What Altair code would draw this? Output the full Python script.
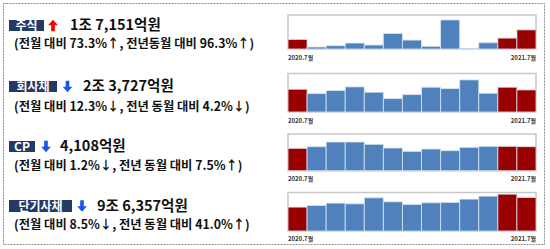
import altair as alt
import pandas as pd

# ---- data ----
months = ["2020.7", "2020.8", "2020.9", "2020.10", "2020.11", "2020.12", "2021.1",
          "2021.2", "2021.3", "2021.4", "2021.5", "2021.6", "2021.7"]
highlight = [1, 0, 0, 0, 0, 0, 0, 0, 0, 0, 0, 1, 1]

categories = ["주식", "회사채", "CP", "단기사채"]
directions = ["up", "down", "down", "down"]
amounts = ["1조 7,151억원", "2조 3,727억원", "4,108억원", "9조 6,357억원"]
changes = [
    "(전월 대비 73.3%↑, 전년동월 대비 96.3%↑)",
    "(전월 대비 12.3%↓, 전년 동월 대비 4.2%↓)",
    "(전월 대비 1.2%↓, 전년 동월 대비 7.5%↑)",
    "(전월 대비 8.5%↓, 전년 동월 대비 41.0%↑)",
]
# relative bar heights (in units of each panel's full height)
stock = [29, 6, 10, 18, 12, 47, 27, 8, 88, 2, 19, 33, 58]
corp_bond = [68, 55, 64, 75, 59, 40, 52, 74, 70, 96, 56, 74, 66]
cp = [67, 72, 86, 86, 79, 68, 58, 65, 60, 70, 73, 73, 72]
short_bond = [72, 77, 84, 82, 100, 88, 80, 85, 86, 96, 105, 111, 101]
panel_max = [103, 115, 110, 116]
series = [stock, corp_bond, cp, short_bond]
start_label = "2020.7월"
end_label = "2021.7월"

# ---- layout ----
W, H = 550, 249
NAVY = "#243a64"
RED = "#990000"
BLUE = "#4f81bd"
FONT = "Noto Sans CJK KR"

box_w = [35, 48, 26, 63]
box_y = [(20, 31), (81, 92), (141, 152), (200, 212)]
arrow_x = [53, 67.5, 46, 82]
amount_x = [70, 83, 60, 97]
change_y = [44, 107, 166, 225]
panel_y = [(15, 49), (73.5, 112), (134, 170.7), (192.5, 231)]
label_y = [58, 121, 179, 239]
PX0, PX1 = 288, 536

one = pd.DataFrame({"a": [0]})
arrow_up = "M0,-1L0.85,-0.05L0.32,-0.05L0.32,1L-0.32,1L-0.32,-0.05L-0.85,-0.05Z"
arrow_down = "M0,1L0.85,0.05L0.32,0.05L0.32,-1L-0.32,-1L-0.32,0.05L-0.85,0.05Z"

layers = []
# outer dashed border
layers.append(alt.Chart(one).mark_rect(fillOpacity=0, stroke="#8c8c8c", strokeWidth=1,
                                       strokeDash=[2, 1]).encode(
    x=alt.value(3.5), x2=alt.value(544.5), y=alt.value(3.5), y2=alt.value(244.5)))

for i in range(4):
    y0, y1 = box_y[i]
    cy = (y0 + y1) / 2
    layers.append(alt.Chart(one).mark_rect(color=NAVY).encode(
        x=alt.value(9), x2=alt.value(9 + box_w[i]), y=alt.value(y0), y2=alt.value(y1)))
    layers.append(alt.Chart(one).mark_text(text=categories[i], color="white", font=FONT,
                                           fontSize=12, fontWeight="bold", align="center",
                                           baseline="middle").encode(
        x=alt.value(9 + box_w[i] / 2), y=alt.value(cy + 0.5)))
    up = directions[i] == "up"
    layers.append(alt.Chart(one).mark_point(shape=arrow_up if up else arrow_down, filled=True,
                                            opacity=1, size=130,
                                            color="#ff0000" if up else "#1a56e8").encode(
        x=alt.value(arrow_x[i]), y=alt.value(cy)))
    layers.append(alt.Chart(one).mark_text(text=amounts[i], color="#111111", font=FONT,
                                           fontSize=14.5, fontWeight="bold", align="left",
                                           baseline="middle").encode(
        x=alt.value(amount_x[i]), y=alt.value(cy + 0.5)))
    layers.append(alt.Chart(one).mark_text(text=changes[i], color="#111111", font=FONT,
                                           fontSize=12.3, fontWeight="bold", align="left",
                                           baseline="middle").encode(
        x=alt.value(14), y=alt.value(change_y[i])))

    # bar panel
    py0, py1 = panel_y[i]
    df = pd.DataFrame({"month": months, "value": series[i],
                       "hl": ["red" if h else "blue" for h in highlight]})
    bars = alt.Chart(df).mark_bar(stroke="#dbe4f1", strokeWidth=0.8).encode(
        x=alt.X("month:O", sort=months, axis=None,
                scale=alt.Scale(range=[PX0, PX1], paddingInner=0, paddingOuter=0)),
        y=alt.Y("value:Q", axis=None,
                scale=alt.Scale(domain=[0, panel_max[i]], range=[py1, py0], nice=False, zero=True)),
        color=alt.Color("hl:N", legend=None,
                        scale=alt.Scale(domain=["red", "blue"], range=[RED, BLUE])),
    )
    frame = alt.Chart(one).mark_rect(fillOpacity=0, stroke="#c8c8c8", strokeWidth=1.5).encode(
        x=alt.value(PX0), x2=alt.value(PX1), y=alt.value(py0), y2=alt.value(py1))
    layers.append(frame)
    layers.append(bars)
    layers.append(alt.Chart(one).mark_text(text=start_label, color="#333333", font=FONT,
                                           fontSize=6, fontWeight="bold", align="left",
                                           baseline="middle").encode(
        x=alt.value(PX0), y=alt.value(label_y[i])))
    layers.append(alt.Chart(one).mark_text(text=end_label, color="#333333", font=FONT,
                                           fontSize=6, fontWeight="bold", align="right",
                                           baseline="middle").encode(
        x=alt.value(PX1), y=alt.value(label_y[i])))

chart = alt.layer(*layers).resolve_scale(
    x="independent", y="independent", color="shared"
).properties(
    width=W, height=H, padding=0, autosize=alt.AutoSizeParams(type="none"),
    background="white"
).configure_view(stroke=None)

chart.save("out.html", embed_options={"renderer": "svg", "actions": False})
